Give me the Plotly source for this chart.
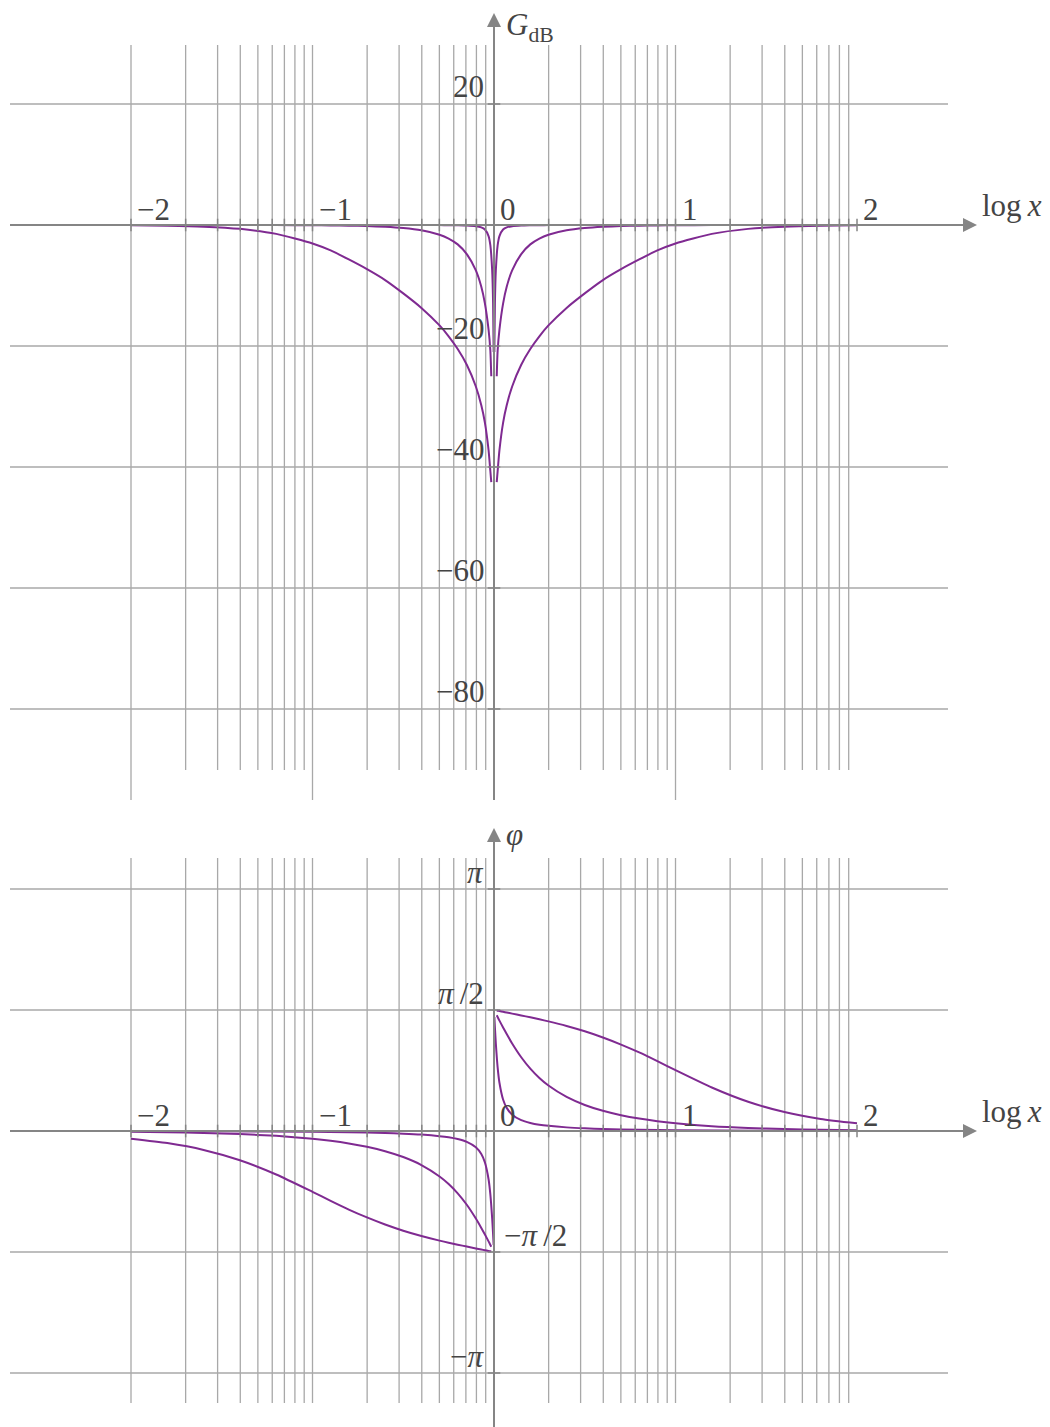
import math
import plotly.graph_objects as go

# ---------------- data ----------------
# log10 x sample positions for the Q=0.1 and Q=1 curves
logx_main = [-2.0, -1.8, -1.6, -1.4, -1.2, -1.0, -0.9, -0.8, -0.7, -0.6, -0.5, -0.4,
             -0.3, -0.25, -0.2, -0.15, -0.1, -0.07, -0.05, -0.03, -0.02, -0.015, 0.0,
             0.015, 0.02, 0.03, 0.05, 0.07, 0.1, 0.15, 0.2, 0.25, 0.3, 0.4, 0.5, 0.6,
             0.7, 0.8, 0.9, 1.0, 1.2, 1.4, 1.6, 1.8, 2.0]
# gain (dB)
gain_q01 = [-0.04, -0.11, -0.27, -0.64, -1.47, -3.05, -4.2, -5.7, -7.3, -9.1, -11.3, -13.7,
            -16.6, -18.4, -20.5, -23.1, -26.7, -29.8, -32.7, -37.2, -40.7, -42.5, None,
            -42.5, -40.7, -37.2, -32.7, -29.8, -26.7, -23.1, -20.5, -18.4, -16.6, -13.7, -11.3, -9.1,
            -7.3, -5.7, -4.2, -3.05, -1.47, -0.64, -0.27, -0.11, -0.04]
gain_q1 = [0.0, 0.0, 0.0, -0.01, -0.02, -0.04, -0.07, -0.11, -0.18, -0.30, -0.51, -0.88,
           -1.61, -2.24, -3.2, -4.8, -7.5, -10.2, -13.0, -17.3, -20.8, -25.0, None,
           -25.0, -20.8, -17.3, -13.0, -10.2, -7.5, -4.8, -3.2, -2.24, -1.61, -0.88, -0.51, -0.30,
           -0.18, -0.11, -0.07, -0.04, -0.02, -0.01, 0.0, 0.0, 0.0]
# phase (rad)
phase_q01 = [-0.100, -0.157, -0.246, -0.380, -0.565, -0.790, -0.907, -1.020, -1.122, -1.214, -1.294, -1.363,
             -1.423, -1.450, -1.476, -1.500, -1.524, -1.538, -1.548, -1.557, -1.562, -1.564, None,
             1.564, 1.562, 1.557, 1.548, 1.538, 1.524, 1.500, 1.476, 1.450, 1.423, 1.363, 1.294, 1.214,
             1.122, 1.020, 0.907, 0.790, 0.565, 0.380, 0.246, 0.157, 0.100]
phase_q1 = [-0.010, -0.016, -0.025, -0.040, -0.063, -0.101, -0.127, -0.161, -0.205, -0.262, -0.338, -0.442,
            -0.590, -0.688, -0.809, -0.957, -1.136, -1.258, -1.344, -1.433, -1.479, -1.502, None,
            1.502, 1.479, 1.433, 1.344, 1.258, 1.136, 0.957, 0.809, 0.688, 0.590, 0.442, 0.338, 0.262,
            0.205, 0.161, 0.127, 0.101, 0.063, 0.040, 0.025, 0.016, 0.010]

# log10 x sample positions for the Q=10 curve
logx_narrow = [-2.0, -1.5, -1.0, -0.8, -0.6, -0.5, -0.4, -0.3, -0.25, -0.2, -0.15, -0.1, -0.07,
               -0.05, -0.03, -0.02, -0.01, -0.005, -0.002, 0.0,
               0.002, 0.005, 0.01, 0.02, 0.03, 0.05, 0.07, 0.1, 0.15, 0.2, 0.25, 0.3, 0.4,
               0.5, 0.6, 0.8, 1.0, 1.5, 2.0]
gain_q10 = [0.0, 0.0, 0.0, 0.0, 0.0, -0.01, -0.01, -0.02, -0.03, -0.05, -0.09, -0.20, -0.40,
            -0.75, -1.83, -3.38, -7.57, -12.98, -21.0, None,
            -21.0, -12.98, -7.57, -3.38, -1.83, -0.75, -0.40, -0.20, -0.09, -0.05, -0.03, -0.02, -0.01,
            -0.01, 0.0, 0.0, 0.0, 0.0, 0.0]
phase_q10 = [-0.001, -0.003, -0.010, -0.016, -0.027, -0.035, -0.047, -0.067, -0.082, -0.105, -0.141, -0.212, -0.300,
             -0.409, -0.626, -0.826, -1.139, -1.344, -1.479, None,
             1.479, 1.344, 1.139, 0.826, 0.626, 0.409, 0.300, 0.212, 0.141, 0.105, 0.082, 0.067, 0.047,
             0.035, 0.027, 0.016, 0.010, 0.003, 0.001]

# axis ticks / labels
x_tick_vals = [-2, -1, 0, 1, 2]
x_tick_text = ["−2", "−1", "0", "1", "2"]
grid_decades = [-2, -1, 0, 1]
grid_mult = [1, 2, 3, 4, 5, 6, 7, 8, 9]
gain_tick_vals = [20, -20, -40, -60, -80]
gain_tick_text = ["20", "−20", "−40", "−60", "−80"]
phase_tick_vals = [math.pi, math.pi / 2, -math.pi / 2, -math.pi]
phase_tick_text = ["<i>π</i>", "<i>π</i>\u2009/2", "−<i>π</i>\u2009/2", "−<i>π</i>"]
phase_label_side = ["left", "left", "right", "left"]

# ---------------- styles ----------------
CURVE = "#7f2a91"
AXIS = "#858585"
GRID = "#a8a8a8"
TEXT = "#444444"
FONT = "Liberation Serif"
FS = 31

fig = go.Figure()

line_style = dict(color=CURVE, width=2, shape="spline", smoothing=0.6)
for ys in (gain_q01, gain_q1):
    fig.add_trace(go.Scatter(x=logx_main, y=ys, mode="lines", xaxis="x", yaxis="y", line=line_style,
                             connectgaps=False, hoverinfo="skip", showlegend=False))
fig.add_trace(go.Scatter(x=logx_narrow, y=gain_q10, mode="lines", xaxis="x", yaxis="y", line=line_style,
                         connectgaps=False, hoverinfo="skip", showlegend=False))
for ys in (phase_q01, phase_q1):
    fig.add_trace(go.Scatter(x=logx_main, y=ys, mode="lines", xaxis="x2", yaxis="y2", line=line_style,
                             connectgaps=False, hoverinfo="skip", showlegend=False))
fig.add_trace(go.Scatter(x=logx_narrow, y=phase_q10, mode="lines", xaxis="x2", yaxis="y2", line=line_style,
                         connectgaps=False, hoverinfo="skip", showlegend=False))

# grid positions
grid_x = []
grid_major = []
for d in grid_decades:
    for k in grid_mult:
        grid_x.append(d + math.log10(k))
        grid_major.append(k == 1)

X_LEFT, X_TIP, X_GRID_END = -2.6667, 2.6612, 2.5014
TOP_Y_TIP, TOP_Y_TAIL = 35.04, -95.04
BOT_Y_TIP, BOT_Y_TAIL = 3.934, -3.95

shapes = []
for gx, major in zip(grid_x, grid_major):
    if abs(gx) < 1e-9:
        continue
    shapes.append(dict(type="line", xref="x", yref="y", x0=gx, x1=gx, y0=29.75,
                       y1=-95.04 if major else -90.08, line=dict(color=GRID, width=1.3), layer="below"))
for gy in gain_tick_vals:
    shapes.append(dict(type="line", xref="x", yref="y", x0=X_LEFT, x1=X_GRID_END, y0=gy, y1=gy,
                       line=dict(color=GRID, width=1.3), layer="below"))
for gx in grid_x:
    if abs(gx) < 1e-9:
        continue
    shapes.append(dict(type="line", xref="x2", yref="y2", x0=gx, x1=gx, y0=3.544, y1=-3.531,
                       line=dict(color=GRID, width=1.3), layer="below"))
for gy in phase_tick_vals:
    shapes.append(dict(type="line", xref="x2", yref="y2", x0=X_LEFT, x1=X_GRID_END, y0=gy, y1=gy,
                       line=dict(color=GRID, width=1.3), layer="below"))

# axis lines (arrowheads added as markers below)
axis_line = dict(color=AXIS, width=2)
shapes.append(dict(type="line", xref="x", yref="y", x0=X_LEFT, x1=X_TIP - 0.04, y0=0, y1=0, line=axis_line))
shapes.append(dict(type="line", xref="x", yref="y", x0=0, x1=0, y0=TOP_Y_TAIL, y1=TOP_Y_TIP - 1.2, line=axis_line))
shapes.append(dict(type="line", xref="x2", yref="y2", x0=X_LEFT, x1=X_TIP - 0.04, y0=0, y1=0, line=axis_line))
shapes.append(dict(type="line", xref="x2", yref="y2", x0=0, x1=0, y0=BOT_Y_TAIL, y1=BOT_Y_TIP - 0.1, line=axis_line))

# tick marks on axes and arrowheads
tick_x = grid_x + [2]
for xa, ya, tv, ytip in (("x", "y", gain_tick_vals, TOP_Y_TIP), ("x2", "y2", phase_tick_vals, BOT_Y_TIP)):
    fig.add_trace(go.Scatter(x=tick_x, y=[0] * len(tick_x), mode="markers", xaxis=xa, yaxis=ya,
                             marker=dict(symbol="line-ns", size=9, line=dict(color=AXIS, width=1.5)),
                             hoverinfo="skip", showlegend=False))
    fig.add_trace(go.Scatter(x=[0] * len(tv), y=tv, mode="markers", xaxis=xa, yaxis=ya,
                             marker=dict(symbol="line-ew", size=9, line=dict(color=AXIS, width=1.5)),
                             hoverinfo="skip", showlegend=False))
    fig.add_trace(go.Scatter(x=[X_TIP], y=[0], mode="markers", xaxis=xa, yaxis=ya,
                             marker=dict(symbol="arrow-right", size=14, color=AXIS, line=dict(width=0)),
                             hoverinfo="skip", showlegend=False))
    fig.add_trace(go.Scatter(x=[0], y=[ytip], mode="markers", xaxis=xa, yaxis=ya,
                             marker=dict(symbol="arrow-up", size=14, color=AXIS, line=dict(width=0)),
                             hoverinfo="skip", showlegend=False))

annotations = []
font = dict(family=FONT, size=FS, color=TEXT)

for xr, yr in (("x", "y"), ("x2", "y2")):
    for v, t in zip(x_tick_vals, x_tick_text):
        annotations.append(dict(xref=xr, yref=yr, x=v, y=0, text=t, showarrow=False, font=font,
                                xanchor="left", yanchor="bottom", xshift=4, yshift=-4))
    annotations.append(dict(xref=xr, yref=yr, x=X_TIP, y=0, text="log\u2009<i>x</i>", showarrow=False,
                            font=font, xanchor="left", yanchor="bottom", xshift=3, yshift=0))

for v, t in zip(gain_tick_vals, gain_tick_text):
    annotations.append(dict(xref="x", yref="y", x=0, y=v, text=t, showarrow=False, font=font,
                            xanchor="right", yanchor="bottom", xshift=-8, yshift=-2))
for v, t, side in zip(phase_tick_vals, phase_tick_text, phase_label_side):
    annotations.append(dict(xref="x2", yref="y2", x=0, y=v, text=t, showarrow=False, font=font,
                            xanchor="right" if side == "left" else "left", yanchor="bottom",
                            xshift=-8 if side == "left" else 8, yshift=-3))

annotations.append(dict(xref="x", yref="y", x=0, y=33.2, text="<i>G</i><sub>dB</sub>", showarrow=False,
                        font=font, xanchor="left", yanchor="middle", xshift=10, yshift=-3))
annotations.append(dict(xref="x2", yref="y2", x=0, y=3.843, text="<i>φ</i>", showarrow=False,
                        font=font, xanchor="left", yanchor="middle", xshift=10))

# the page body adds an 8 px offset; ranges compensate for it
hidden = dict(visible=False, showgrid=False, zeroline=False, fixedrange=True)
fig.update_layout(
    width=1050, height=1427,
    margin=dict(l=0, r=0, t=0, b=0),
    paper_bgcolor="white", plot_bgcolor="white",
    showlegend=False,
    shapes=shapes,
    annotations=annotations,
    xaxis=dict(domain=[0, 1], range=[-2.6777, 3.1074], anchor="y", **hidden),
    yaxis=dict(domain=[0.44149, 1], range=[-95.868, 35.868], anchor="x", **hidden),
    xaxis2=dict(domain=[0, 1], range=[-2.6777, 3.1074], anchor="y2", **hidden),
    yaxis2=dict(domain=[0, 0.43448], range=[-3.9465, 4.1023], anchor="x2", **hidden),
)

fig.write_html("out.html")
